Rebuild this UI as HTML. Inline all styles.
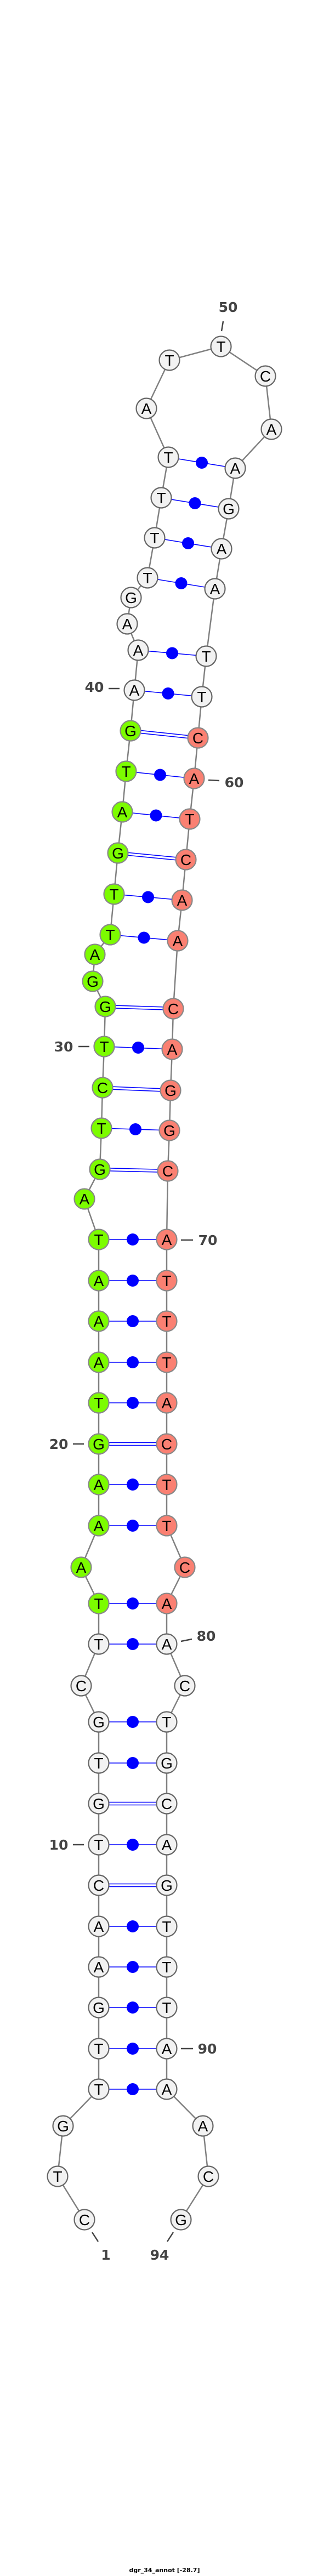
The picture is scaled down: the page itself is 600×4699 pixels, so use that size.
<!DOCTYPE html>
<html><head><meta charset="utf-8"><style>
html,body{margin:0;padding:0;background:#fff;}
svg{display:block;}
.bb{fill:none;stroke:#808080;stroke-width:2.5;}
.p{stroke:#0000ff;stroke-width:1.6;}
.d{fill:#0000ff;}
.g{fill:#f2f2f2;stroke:#666;stroke-width:2.2;}
.gr{fill:#7cfc00;stroke:#888;stroke-width:2.2;}
.s{fill:#fa8072;stroke:#888;stroke-width:2.2;}
.t{font-family:"Liberation Sans",sans-serif;font-size:28px;text-anchor:middle;fill:#000;}
.l{font-family:"DejaVu Sans","Liberation Sans",sans-serif;font-weight:bold;font-size:25px;text-anchor:middle;fill:#444;}
.k{stroke:#444;stroke-width:2.5;}
</style></head><body>
<svg width="600" height="4699" viewBox="0 0 600 4699" xmlns="http://www.w3.org/2000/svg">
<polyline class="bb" points="154,4049 105,3970 115,3878 180,3811 180,3737 180,3662 180,3588 180,3514 180,3439 180,3365 180,3290 180,3216 180,3141 148,3075 180,2999 180,2925 148,2859 180,2783 180,2708 180,2634 180,2559 180,2485 180,2410 180,2336 180,2261 154,2187 182,2133 185,2058 187,1984 190,1909 192,1836 169,1790 173,1741 201,1705 208,1631 215,1556 223,1481 230,1407 238,1333 245,1259 252,1186 232,1138 239,1090 269,1054 282,981 294,908 307,834 267,745 309,657 403,632 484,686 495,783 429,854 417,928 404,1001 392,1074 376,1197 368,1271 361,1346 354,1420 346,1494 339,1568 332,1642 324,1716 316,1840 314,1914 311,1989 309,2062 306,2136 304,2261 304,2336 304,2410 304,2485 304,2559 304,2634 304,2708 304,2783 337,2859 304,2925 304,2999 337,3075 304,3141 304,3216 304,3290 304,3365 304,3439 304,3514 304,3588 304,3662 304,3737 304,3811 370,3878 380,3970 330,4049"/>
<g class="p">
<line x1="180" y1="3811" x2="304" y2="3811"/><line x1="180" y1="3737" x2="304" y2="3737"/>
<line x1="180" y1="3662" x2="304" y2="3662"/><line x1="180" y1="3588" x2="304" y2="3588"/>
<line x1="180" y1="3514" x2="304" y2="3514"/><line x1="180" y1="3365" x2="304" y2="3365"/>
<line x1="180" y1="3216" x2="304" y2="3216"/><line x1="180" y1="3141" x2="304" y2="3141"/>
<line x1="180" y1="2999" x2="304" y2="2999"/><line x1="180" y1="2925" x2="304" y2="2925"/>
<line x1="180" y1="2783" x2="304" y2="2783"/><line x1="180" y1="2708" x2="304" y2="2708"/>
<line x1="180" y1="2559" x2="304" y2="2559"/><line x1="180" y1="2485" x2="304" y2="2485"/>
<line x1="180" y1="2410" x2="304" y2="2410"/><line x1="180" y1="2336" x2="304" y2="2336"/>
<line x1="180" y1="2261" x2="304" y2="2261"/>
<line x1="185" y1="2058" x2="309" y2="2062"/><line x1="190" y1="1909" x2="314" y2="1914"/>
<line x1="201" y1="1705" x2="324" y2="1716"/><line x1="208" y1="1631" x2="332" y2="1642"/>
<line x1="223" y1="1481" x2="346" y2="1494"/><line x1="230" y1="1407" x2="354" y2="1420"/>
<line x1="245" y1="1259" x2="368" y2="1271"/><line x1="252" y1="1186" x2="376" y2="1197"/>
<line x1="269" y1="1054" x2="392" y2="1074"/><line x1="282" y1="981" x2="404" y2="1001"/>
<line x1="294" y1="908" x2="417" y2="928"/><line x1="307" y1="834" x2="429" y2="854"/>
<line x1="180" y1="3436.5" x2="304" y2="3436.5"/><line x1="180" y1="3441.5" x2="304" y2="3441.5"/>
<line x1="180" y1="3287.5" x2="304" y2="3287.5"/><line x1="180" y1="3292.5" x2="304" y2="3292.5"/>
<line x1="180" y1="2631.5" x2="304" y2="2631.5"/><line x1="180" y1="2636.5" x2="304" y2="2636.5"/>
<line x1="182" y1="2130.5" x2="306" y2="2133.5"/><line x1="182" y1="2135.5" x2="306" y2="2138.5"/>
<line x1="187" y1="1981.5" x2="311" y2="1986.5"/><line x1="187" y1="1986.5" x2="311" y2="1991.5"/>
<line x1="192" y1="1833.5" x2="316" y2="1837.5"/><line x1="192" y1="1838.5" x2="316" y2="1842.5"/>
<line x1="215" y1="1553.5" x2="339" y2="1565.5"/><line x1="215" y1="1558.5" x2="339" y2="1570.5"/>
<line x1="238" y1="1330.5" x2="361" y2="1343.5"/><line x1="238" y1="1335.5" x2="361" y2="1348.5"/>
</g>
<g class="d">
<circle cx="242" cy="3811" r="11"/><circle cx="242" cy="3737" r="11"/><circle cx="242" cy="3662" r="11"/>
<circle cx="242" cy="3588" r="11"/><circle cx="242" cy="3514" r="11"/><circle cx="242" cy="3365" r="11"/>
<circle cx="242" cy="3216" r="11"/><circle cx="242" cy="3141" r="11"/><circle cx="242" cy="2999" r="11"/>
<circle cx="242" cy="2925" r="11"/><circle cx="242" cy="2783" r="11"/><circle cx="242" cy="2708" r="11"/>
<circle cx="242" cy="2559" r="11"/><circle cx="242" cy="2485" r="11"/><circle cx="242" cy="2410" r="11"/>
<circle cx="242" cy="2336" r="11"/><circle cx="242" cy="2261" r="11"/>
<circle cx="247" cy="2060" r="11"/><circle cx="252" cy="1911" r="11"/>
<circle cx="262.5" cy="1710.5" r="11"/><circle cx="270" cy="1636.5" r="11"/>
<circle cx="284.5" cy="1487.5" r="11"/><circle cx="292" cy="1413.5" r="11"/>
<circle cx="306.5" cy="1265" r="11"/><circle cx="314" cy="1191.5" r="11"/>
<circle cx="330.5" cy="1064" r="11"/><circle cx="343" cy="991" r="11"/>
<circle cx="355.5" cy="918" r="11"/><circle cx="368" cy="844" r="11"/>
</g>
<g>
<circle class="g" cx="154" cy="4049" r="18.5"/><text class="t" x="154" y="4059">C</text>
<circle class="g" cx="105" cy="3970" r="18.5"/><text class="t" x="105" y="3980">T</text>
<circle class="g" cx="115" cy="3878" r="18.5"/><text class="t" x="115" y="3888">G</text>
<circle class="g" cx="180" cy="3811" r="18.5"/><text class="t" x="180" y="3821">T</text>
<circle class="g" cx="180" cy="3737" r="18.5"/><text class="t" x="180" y="3747">T</text>
<circle class="g" cx="180" cy="3662" r="18.5"/><text class="t" x="180" y="3672">G</text>
<circle class="g" cx="180" cy="3588" r="18.5"/><text class="t" x="180" y="3598">A</text>
<circle class="g" cx="180" cy="3514" r="18.5"/><text class="t" x="180" y="3524">A</text>
<circle class="g" cx="180" cy="3439" r="18.5"/><text class="t" x="180" y="3449">C</text>
<circle class="g" cx="180" cy="3365" r="18.5"/><text class="t" x="180" y="3375">T</text>
<circle class="g" cx="180" cy="3290" r="18.5"/><text class="t" x="180" y="3300">G</text>
<circle class="g" cx="180" cy="3216" r="18.5"/><text class="t" x="180" y="3226">T</text>
<circle class="g" cx="180" cy="3141" r="18.5"/><text class="t" x="180" y="3151">G</text>
<circle class="g" cx="148" cy="3075" r="18.5"/><text class="t" x="148" y="3085">C</text>
<circle class="g" cx="180" cy="2999" r="18.5"/><text class="t" x="180" y="3009">T</text>
<circle class="gr" cx="180" cy="2925" r="18.5"/><text class="t" x="180" y="2935">T</text>
<circle class="gr" cx="148" cy="2859" r="18.5"/><text class="t" x="148" y="2869">A</text>
<circle class="gr" cx="180" cy="2783" r="18.5"/><text class="t" x="180" y="2793">A</text>
<circle class="gr" cx="180" cy="2708" r="18.5"/><text class="t" x="180" y="2718">A</text>
<circle class="gr" cx="180" cy="2634" r="18.5"/><text class="t" x="180" y="2644">G</text>
<circle class="gr" cx="180" cy="2559" r="18.5"/><text class="t" x="180" y="2569">T</text>
<circle class="gr" cx="180" cy="2485" r="18.5"/><text class="t" x="180" y="2495">A</text>
<circle class="gr" cx="180" cy="2410" r="18.5"/><text class="t" x="180" y="2420">A</text>
<circle class="gr" cx="180" cy="2336" r="18.5"/><text class="t" x="180" y="2346">A</text>
<circle class="gr" cx="180" cy="2261" r="18.5"/><text class="t" x="180" y="2271">T</text>
<circle class="gr" cx="154" cy="2187" r="18.5"/><text class="t" x="154" y="2197">A</text>
<circle class="gr" cx="182" cy="2133" r="18.5"/><text class="t" x="182" y="2143">G</text>
<circle class="gr" cx="185" cy="2058" r="18.5"/><text class="t" x="185" y="2068">T</text>
<circle class="gr" cx="187" cy="1984" r="18.5"/><text class="t" x="187" y="1994">C</text>
<circle class="gr" cx="190" cy="1909" r="18.5"/><text class="t" x="190" y="1919">T</text>
<circle class="gr" cx="192" cy="1836" r="18.5"/><text class="t" x="192" y="1846">G</text>
<circle class="gr" cx="169" cy="1790" r="18.5"/><text class="t" x="169" y="1800">G</text>
<circle class="gr" cx="173" cy="1741" r="18.5"/><text class="t" x="173" y="1751">A</text>
<circle class="gr" cx="201" cy="1705" r="18.5"/><text class="t" x="201" y="1715">T</text>
<circle class="gr" cx="208" cy="1631" r="18.5"/><text class="t" x="208" y="1641">T</text>
<circle class="gr" cx="215" cy="1556" r="18.5"/><text class="t" x="215" y="1566">G</text>
<circle class="gr" cx="223" cy="1481" r="18.5"/><text class="t" x="223" y="1491">A</text>
<circle class="gr" cx="230" cy="1407" r="18.5"/><text class="t" x="230" y="1417">T</text>
<circle class="gr" cx="238" cy="1333" r="18.5"/><text class="t" x="238" y="1343">G</text>
<circle class="g" cx="245" cy="1259" r="18.5"/><text class="t" x="245" y="1269">A</text>
<circle class="g" cx="252" cy="1186" r="18.5"/><text class="t" x="252" y="1196">A</text>
<circle class="g" cx="232" cy="1138" r="18.5"/><text class="t" x="232" y="1148">A</text>
<circle class="g" cx="239" cy="1090" r="18.5"/><text class="t" x="239" y="1100">G</text>
<circle class="g" cx="269" cy="1054" r="18.5"/><text class="t" x="269" y="1064">T</text>
<circle class="g" cx="282" cy="981" r="18.5"/><text class="t" x="282" y="991">T</text>
<circle class="g" cx="294" cy="908" r="18.5"/><text class="t" x="294" y="918">T</text>
<circle class="g" cx="307" cy="834" r="18.5"/><text class="t" x="307" y="844">T</text>
<circle class="g" cx="267" cy="745" r="18.5"/><text class="t" x="267" y="755">A</text>
<circle class="g" cx="309" cy="657" r="18.5"/><text class="t" x="309" y="667">T</text>
<circle class="g" cx="403" cy="632" r="18.5"/><text class="t" x="403" y="642">T</text>
<circle class="g" cx="484" cy="686" r="18.5"/><text class="t" x="484" y="696">C</text>
<circle class="g" cx="495" cy="783" r="18.5"/><text class="t" x="495" y="793">A</text>
<circle class="g" cx="429" cy="854" r="18.5"/><text class="t" x="429" y="864">A</text>
<circle class="g" cx="417" cy="928" r="18.5"/><text class="t" x="417" y="938">G</text>
<circle class="g" cx="404" cy="1001" r="18.5"/><text class="t" x="404" y="1011">A</text>
<circle class="g" cx="392" cy="1074" r="18.5"/><text class="t" x="392" y="1084">A</text>
<circle class="g" cx="376" cy="1197" r="18.5"/><text class="t" x="376" y="1207">T</text>
<circle class="g" cx="368" cy="1271" r="18.5"/><text class="t" x="368" y="1281">T</text>
<circle class="s" cx="361" cy="1346" r="18.5"/><text class="t" x="361" y="1356">C</text>
<circle class="s" cx="354" cy="1420" r="18.5"/><text class="t" x="354" y="1430">A</text>
<circle class="s" cx="346" cy="1494" r="18.5"/><text class="t" x="346" y="1504">T</text>
<circle class="s" cx="339" cy="1568" r="18.5"/><text class="t" x="339" y="1578">C</text>
<circle class="s" cx="332" cy="1642" r="18.5"/><text class="t" x="332" y="1652">A</text>
<circle class="s" cx="324" cy="1716" r="18.5"/><text class="t" x="324" y="1726">A</text>
<circle class="s" cx="316" cy="1840" r="18.5"/><text class="t" x="316" y="1850">C</text>
<circle class="s" cx="314" cy="1914" r="18.5"/><text class="t" x="314" y="1924">A</text>
<circle class="s" cx="311" cy="1989" r="18.5"/><text class="t" x="311" y="1999">G</text>
<circle class="s" cx="309" cy="2062" r="18.5"/><text class="t" x="309" y="2072">G</text>
<circle class="s" cx="306" cy="2136" r="18.5"/><text class="t" x="306" y="2146">C</text>
<circle class="s" cx="304" cy="2261" r="18.5"/><text class="t" x="304" y="2271">A</text>
<circle class="s" cx="304" cy="2336" r="18.5"/><text class="t" x="304" y="2346">T</text>
<circle class="s" cx="304" cy="2410" r="18.5"/><text class="t" x="304" y="2420">T</text>
<circle class="s" cx="304" cy="2485" r="18.5"/><text class="t" x="304" y="2495">T</text>
<circle class="s" cx="304" cy="2559" r="18.5"/><text class="t" x="304" y="2569">A</text>
<circle class="s" cx="304" cy="2634" r="18.5"/><text class="t" x="304" y="2644">C</text>
<circle class="s" cx="304" cy="2708" r="18.5"/><text class="t" x="304" y="2718">T</text>
<circle class="s" cx="304" cy="2783" r="18.5"/><text class="t" x="304" y="2793">T</text>
<circle class="s" cx="337" cy="2859" r="18.5"/><text class="t" x="337" y="2869">C</text>
<circle class="s" cx="304" cy="2925" r="18.5"/><text class="t" x="304" y="2935">A</text>
<circle class="g" cx="304" cy="2999" r="18.5"/><text class="t" x="304" y="3009">A</text>
<circle class="g" cx="337" cy="3075" r="18.5"/><text class="t" x="337" y="3085">C</text>
<circle class="g" cx="304" cy="3141" r="18.5"/><text class="t" x="304" y="3151">T</text>
<circle class="g" cx="304" cy="3216" r="18.5"/><text class="t" x="304" y="3226">G</text>
<circle class="g" cx="304" cy="3290" r="18.5"/><text class="t" x="304" y="3300">C</text>
<circle class="g" cx="304" cy="3365" r="18.5"/><text class="t" x="304" y="3375">A</text>
<circle class="g" cx="304" cy="3439" r="18.5"/><text class="t" x="304" y="3449">G</text>
<circle class="g" cx="304" cy="3514" r="18.5"/><text class="t" x="304" y="3524">T</text>
<circle class="g" cx="304" cy="3588" r="18.5"/><text class="t" x="304" y="3598">T</text>
<circle class="g" cx="304" cy="3662" r="18.5"/><text class="t" x="304" y="3672">T</text>
<circle class="g" cx="304" cy="3737" r="18.5"/><text class="t" x="304" y="3747">A</text>
<circle class="g" cx="304" cy="3811" r="18.5"/><text class="t" x="304" y="3821">A</text>
<circle class="g" cx="370" cy="3878" r="18.5"/><text class="t" x="370" y="3888">A</text>
<circle class="g" cx="380" cy="3970" r="18.5"/><text class="t" x="380" y="3980">C</text>
<circle class="g" cx="330" cy="4049" r="18.5"/><text class="t" x="330" y="4059">G</text>
</g>
<line class="k" x1="407" y1="586" x2="404" y2="604"/><text class="l" x="416" y="569">50</text>
<line class="k" x1="198" y1="1256" x2="218" y2="1256"/><text class="l" x="172" y="1262">40</text>
<line class="k" x1="380" y1="1423" x2="400" y2="1424"/><text class="l" x="427" y="1436">60</text>
<line class="k" x1="143" y1="1909" x2="163" y2="1909"/><text class="l" x="116" y="1918">30</text>
<line class="k" x1="330" y1="2262" x2="352" y2="2262"/><text class="l" x="379" y="2271">70</text>
<line class="k" x1="133" y1="2634" x2="153" y2="2634"/><text class="l" x="107" y="2643">20</text>
<line class="k" x1="330" y1="2994" x2="350" y2="2990"/><text class="l" x="376" y="2993">80</text>
<line class="k" x1="133" y1="3365" x2="153" y2="3365"/><text class="l" x="107" y="3374">10</text>
<line class="k" x1="330" y1="3737" x2="352" y2="3737"/><text class="l" x="378" y="3746">90</text>
<line class="k" x1="168" y1="4072" x2="179" y2="4089"/><text class="l" x="193" y="4122">1</text>
<line class="k" x1="316" y1="4072" x2="305" y2="4089"/><text class="l" x="291" y="4122">94</text>
<text x="300" y="4692" style="font-family:'DejaVu Sans','Liberation Sans',sans-serif;font-weight:bold;font-size:11px;text-anchor:middle;fill:#000;">dgr_34_annot [-28.7]</text>
</svg>
</body></html>
